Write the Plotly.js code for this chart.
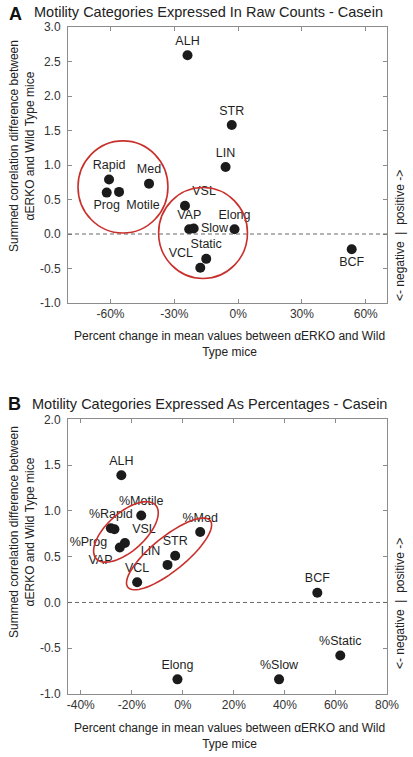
<!DOCTYPE html>
<html>
<head>
<meta charset="utf-8">
<script src="https://cdn.plot.ly/plotly-3.0.1.min.js"></script>
<style>html,body{margin:0;padding:0;background:#fff;}#chart{width:413px;height:757px;}</style>
</head>
<body>
<div id="chart"></div>
<script>
// ---------- Panel A data (raw counts) ----------
var aLabels = ['ALH','STR','LIN','Rapid','Med','Prog','Motile','VSL','VAP','Slow','Elong','Static','VCL','BCF'];
var aX = [-23.8, -3.0, -5.9, -60.7, -41.9, -61.8, -56.0, -25.0, -23.0, -20.9, -1.7, -15.0, -17.8, 53.4];
var aY = [2.59, 1.58, 0.97, 0.79, 0.73, 0.60, 0.61, 0.41, 0.07, 0.08, 0.07, -0.36, -0.49, -0.22];

// ---------- Panel B data (percentages) ----------
var bLabels = ['ALH','%Motile','%Rapid','%Prog','VSL','VAP','%Med','STR','LIN','VCL','BCF','%Static','%Slow','Elong'];
var bX = [-24.1, -16.3, -28.2, -26.8, -22.7, -24.7, 6.8, -3.0, -6.0, -17.9, 52.7, 61.7, 37.7, -2.1];
var bY = [1.39, 0.95, 0.81, 0.80, 0.65, 0.60, 0.77, 0.51, 0.41, 0.22, 0.106, -0.58, -0.84, -0.84];

// ---------- tick labels ----------
var aXTickVals = [-60, -30, 0, 30, 60];
var aXTickText = ['-60%', '-30%', '0%', '30%', '60%'];
var aYTickVals = [-1, -0.5, 0, 0.5, 1, 1.5, 2, 2.5, 3];
var aYTickText = ['-1.0', '-0.5', '0.0', '0.5', '1.0', '1.5', '2.0', '2.5', '3.0'];
var bXTickVals = [-40, -20, 0, 20, 40, 60, 80];
var bXTickText = ['-40%', '-20%', '0%', '20%', '40%', '60%', '80%'];
var bYTickVals = [-1, -0.5, 0, 0.5, 1, 1.5, 2];
var bYTickText = ['-1.0', '-0.5', '0.0', '0.5', '1.0', '1.5', '2.0'];

// ---------- label placement (style) ----------
var aTextPos = ['top center','top center','top center','top center','top center','bottom center','bottom right',
                'top right','top center','middle right','top center','top center','top left','bottom center'];
var bTextPos = ['top center','top center','top center','bottom left','top right','bottom left','top center',
                'top center','top left','top center','top center','top center','top center','top center'];

var FONT = '"Liberation Sans", Arial, Helvetica, sans-serif';
var W = 413, H = 757, ML = 68, MR = 26, MT = 27, MB = 63;
var PW = W - ML - MR, PH = H - MT - MB;
var aDom = [0.5862, 1], bDom = [0, 0.4118];
var aXR = [-80, 70], aYR = [-1, 3], bXR = [-45, 80], bYR = [-1, 2];
function pxX(x){ return (x - ML) / PW; }
function pxY(y){ return 1 - (y - MT) / PH; }

// ellipse path (pixel radii, rotation) in data coords of panel B
function ellipsePath(cx, cy, aPx, bPx, angDeg, xr, yr, dom){
  var sx = PW / (xr[1] - xr[0]);
  var sy = (dom[1] - dom[0]) * PH / (yr[1] - yr[0]);
  var t = angDeg * Math.PI / 180, p = '';
  for (var i = 0; i <= 72; i++){
    var u = 2 * Math.PI * i / 72;
    var dx = aPx * Math.cos(u) * Math.cos(t) - bPx * Math.sin(u) * Math.sin(t);
    var dy = aPx * Math.cos(u) * Math.sin(t) + bPx * Math.sin(u) * Math.cos(t);
    p += (i === 0 ? 'M' : 'L') + (cx + dx / sx).toFixed(3) + ',' + (cy + dy / sy).toFixed(3);
  }
  return p + 'Z';
}

var markerStyle = {size: 10, color: '#1b1b1b'};
var textStyle = {family: FONT, size: 12.5, color: '#1e1e1e'};

var traces = [
  {type: 'scatter', mode: 'markers+text', x: aX, y: aY, text: aLabels, textposition: aTextPos,
   marker: markerStyle, textfont: textStyle, xaxis: 'x', yaxis: 'y', cliponaxis: false, hoverinfo: 'skip'},
  {type: 'scatter', mode: 'markers+text', x: bX, y: bY, text: bLabels, textposition: bTextPos,
   marker: markerStyle, textfont: textStyle, xaxis: 'x2', yaxis: 'y2', cliponaxis: false, hoverinfo: 'skip'}
];

var axisBase = {
  showline: true, mirror: 'ticks', linecolor: '#8c8c8c', linewidth: 1,
  ticks: 'inside', ticklen: 4, tickcolor: '#8c8c8c', showgrid: false, zeroline: false,
  tickfont: {family: FONT, size: 12, color: '#333'}, fixedrange: true
};
function ax(extra){ var o = {}; for (var k in axisBase) o[k] = axisBase[k]; for (var k2 in extra) o[k2] = extra[k2]; return o; }

var red = '#c9302c';
var shapes = [
  {type: 'line', xref: 'x', yref: 'y', x0: aXR[0], x1: aXR[1], y0: 0, y1: 0, line: {color: '#666', width: 1, dash: '4px,3px'}},
  {type: 'line', xref: 'x2', yref: 'y2', x0: bXR[0], x1: bXR[1], y0: 0, y1: 0, line: {color: '#666', width: 1, dash: '4px,3px'}},
  {type: 'circle', xref: 'x', yref: 'y', x0: -75.3, x1: -33.0, y0: 0.014, y1: 1.35, line: {color: red, width: 1.6}},
  {type: 'circle', xref: 'x', yref: 'y', x0: -37.4, x1: 4.4, y0: -0.645, y1: 0.674, line: {color: red, width: 1.6}},
  {type: 'path', xref: 'x2', yref: 'y2', path: ellipsePath(-22.3, 0.77, 40, 19, 42, bXR, bYR, bDom), line: {color: red, width: 1.6}},
  {type: 'path', xref: 'x2', yref: 'y2', path: ellipsePath(-5.4, 0.53, 53, 17, 39, bXR, bYR, bDom), line: {color: red, width: 1.6}}
];

function ann(text, x, y, size, extra){
  var o = {text: text, xref: 'paper', yref: 'paper', x: pxX(x), y: pxY(y), showarrow: false,
           xanchor: 'center', yanchor: 'middle', font: {family: FONT, size: size, color: '#222'}};
  if (extra) for (var k in extra) o[k] = extra[k];
  return o;
}
var yTitle = 'Summed correlation difference between<br>αERKO and Wild Type mice';
var xTitle = 'Percent change in mean values between αERKO and Wild<br>Type mice';
var sideText = '&lt;- negative  |  positive -&gt;';
var annotations = [
  ann('<b>A</b>', 15, 14, 18, {font: {family: FONT, size: 18, color: '#111'}}),
  ann('Motility Categories Expressed In Raw Counts - Casein', 208.5, 12, 14.5),
  ann(yTitle, 22, 146, 12, {textangle: -90}),
  ann(xTitle, 229, 344, 12),
  ann(sideText, 400, 236, 12, {textangle: -90}),
  ann('<b>B</b>', 14, 404, 18, {font: {family: FONT, size: 18, color: '#111'}}),
  ann('Motility Categories Expressed As Percentages - Casein', 209, 404, 14.5),
  ann(yTitle, 22, 532, 12, {textangle: -90}),
  ann(xTitle, 229, 736, 12),
  ann(sideText, 400, 604, 12, {textangle: -90})
];

var layout = {
  width: W, height: H, margin: {l: ML, r: MR, t: MT, b: MB},
  paper_bgcolor: '#ffffff', plot_bgcolor: '#ffffff', showlegend: false,
  font: {family: FONT, size: 12, color: '#222'},
  xaxis: ax({domain: [0, 1], anchor: 'y', range: aXR, tickvals: aXTickVals, ticktext: aXTickText}),
  yaxis: ax({domain: aDom, anchor: 'x', range: aYR, tickvals: aYTickVals, ticktext: aYTickText, ticklabelstandoff: 4}),
  xaxis2: ax({domain: [0, 1], anchor: 'y2', range: bXR, tickvals: bXTickVals, ticktext: bXTickText}),
  yaxis2: ax({domain: bDom, anchor: 'x2', range: bYR, tickvals: bYTickVals, ticktext: bYTickText, ticklabelstandoff: 4}),
  shapes: shapes, annotations: annotations
};

Plotly.newPlot('chart', traces, layout, {staticPlot: true, displayModeBar: false});
</script>
</body>
</html>
